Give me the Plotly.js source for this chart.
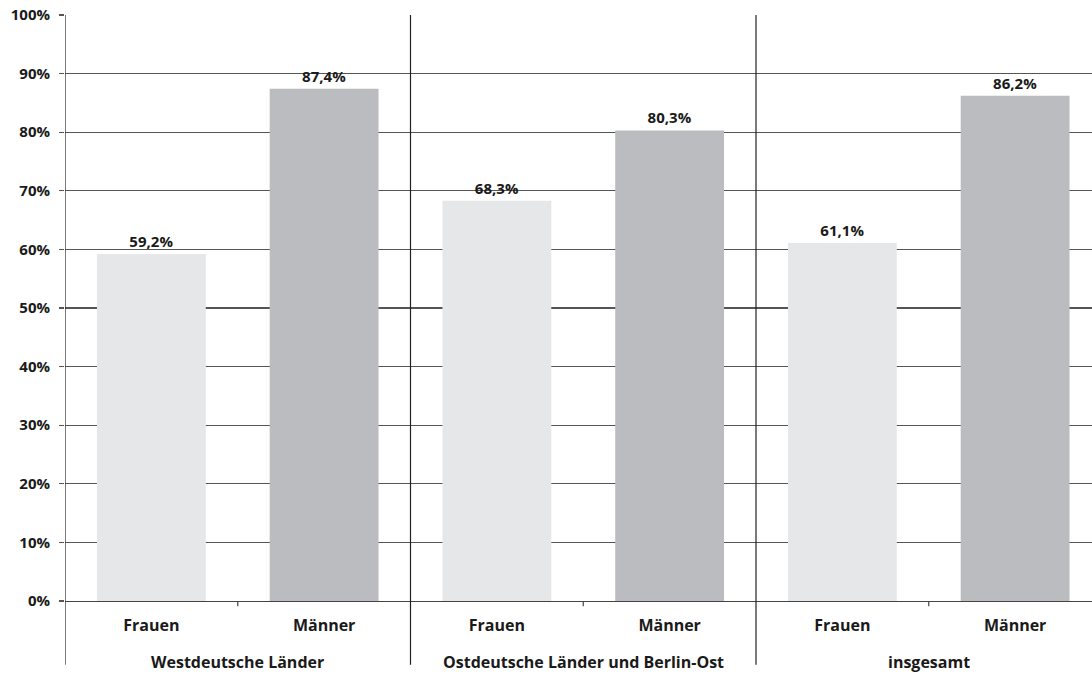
<!DOCTYPE html>
<html><head><meta charset="utf-8">
<script src="https://cdn.plot.ly/plotly-3.0.1.min.js"></script>
<style>html,body{margin:0;padding:0;background:#fff;overflow:hidden}</style>
</head><body><div id="chart" style="width:1092px;height:675px"></div>
<script>
const categories = ["W_Frauen","W_Männer","O_Frauen","O_Männer","I_Frauen","I_Männer"];
const tickLabels = ["Frauen","Männer","Frauen","Männer","Frauen","Männer"];
const groups = ["Westdeutsche Länder","Ostdeutsche Länder und Berlin-Ost","insgesamt"];
const values = [59.2, 87.4, 68.3, 80.3, 61.1, 86.2];
const colors = ["#e6e7e8","#bbbcbf","#e6e7e8","#bbbcbf","#e6e7e8","#bbbcbf"];

const fam = "Open Sans, DejaVu Sans, sans-serif";
const font = {family:fam, size:14, color:"#1a1a1a", weight:700};
const bigFont = {family:fam, size:16, color:"#1a1a1a", weight:700};
const yFont = {family:fam, size:15, color:"#1a1a1a", weight:700};

const trace = {
  type:"bar", x:categories, y:values,
  marker:{color:colors},
  width:0.63,
  texttemplate:"%{y:.1f}%", textposition:"outside", cliponaxis:false,
  textfont:{family:fam, size:15, color:"#1a1a1a", weight:700}, hoverinfo:"skip"
};

const shapes = [];
[-0.5, 1.5, 3.5].forEach(x=>{
  shapes.push({type:"line", xref:"x", yref:"paper", x0:x, x1:x, y0:-0.109, y1:1, line:{color:"#222", width:1.2}});
});
[0.5, 2.5, 4.5].forEach(x=>{
  shapes.push({type:"line", xref:"x", yref:"paper", x0:x, x1:x, y0:0, y1:-0.009, line:{color:"#444", width:1.2}});
});

const annotations = groups.map((g,i)=>({
  text:g, xref:"x", yref:"paper", x:2*i+0.5, y:-0.104, yanchor:"middle", showarrow:false, font:bigFont
}));

const layout = {
  width:1092, height:675,
  margin:{l:65, r:0, t:15, b:74},
  paper_bgcolor:"#fff", plot_bgcolor:"#fff",
  separators:",.",
  showlegend:false,
  xaxis:{type:"category", range:[-0.5,5.445], tickvals:categories, ticktext:tickLabels,
         showgrid:false, ticks:"", showline:true, linecolor:"#444", linewidth:1.2,
         tickfont:bigFont, ticklabelstandoff:10, fixedrange:true},
  yaxis:{range:[0,100], dtick:10, ticksuffix:"%", showgrid:true, gridcolor:"#555", gridwidth:1.2,
         ticks:"outside", ticklen:5, tickcolor:"#555", tickwidth:1.2, showline:false, zeroline:false,
         tickfont:yFont, ticklabelstandoff:6, fixedrange:true},
  shapes:shapes, annotations:annotations
};
Plotly.newPlot("chart",[trace],layout,{displayModeBar:false,staticPlot:true});
</script></body></html>
